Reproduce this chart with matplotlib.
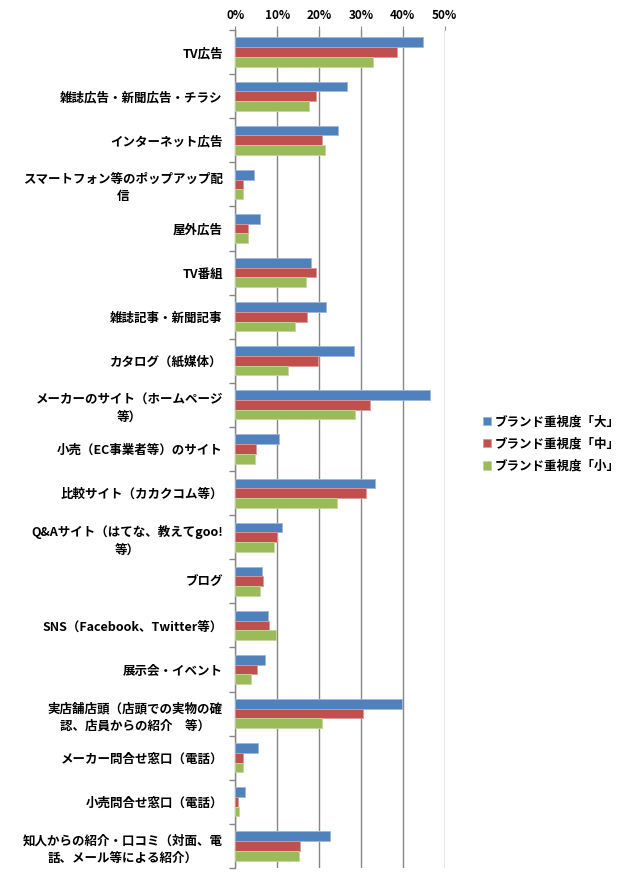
import numpy as np
import matplotlib
matplotlib.use("Agg")
import matplotlib.pyplot as plt
from matplotlib.ticker import FixedLocator, PercentFormatter

plt.rcParams["font.family"] = ["Noto Sans CJK JP", "DejaVu Sans"]
plt.rcParams["font.weight"] = "bold"

GRID_COLOR = "#868686"
SERIES_COLORS = ("#4F81BD", "#C0504D", "#9BBB59")
EDGE_COLORS = ("#9db6db", "#dc9897", "#c3d69b")

categories = [
    "TV広告",
    "雑誌広告・新聞広告・チラシ",
    "インターネット広告",
    "スマートフォン等のポップアップ配\n信",
    "屋外広告",
    "TV番組",
    "雑誌記事・新聞記事",
    "カタログ（紙媒体）",
    "メーカーのサイト（ホームページ\n等）",
    "小売（EC事業者等）のサイト",
    "比較サイト（カカクコム等）",
    "Q&Aサイト（はてな、教えてgoo!\n等）",
    "ブログ",
    "SNS（Facebook、Twitter等）",
    "展示会・イベント",
    "実店舗店頭（店頭での実物の確\n認、店員からの紹介　等）",
    "メーカー問合せ窓口（電話）",
    "小売問合せ窓口（電話）",
    "知人からの紹介・口コミ（対面、電\n話、メール等による紹介）",
]

series_labels = ["ブランド重視度「大」", "ブランド重視度「中」", "ブランド重視度「小」"]

high = [44.7, 26.7, 24.5, 4.5, 5.8, 18.1, 21.6, 28.3, 46.6, 10.5,
        33.3, 11.2, 6.4, 7.7, 7.1, 39.7, 5.5, 2.3, 22.6]
mid = [38.7, 19.2, 20.8, 1.9, 3.1, 19.2, 17.2, 19.7, 32.2, 4.9,
       31.3, 10.0, 6.5, 8.1, 5.1, 30.5, 1.9, 0.6, 15.4]
low = [32.8, 17.7, 21.5, 1.8, 3.0, 16.9, 14.3, 12.6, 28.6, 4.6,
       24.3, 9.3, 6.0, 9.7, 3.8, 20.6, 1.8, 0.9, 15.2]

fig = plt.figure(figsize=(6.32, 8.81), dpi=100)
fig.patch.set_facecolor("white")
ax = fig.add_axes([235.3 / 632, 1 - 868 / 881, (444.7 - 235.3) / 632, 838 / 881])

y = np.arange(len(categories))
bar_h = 0.22
for k, (vals, color, edge, lab) in enumerate(
    zip((high, mid, low), SERIES_COLORS, EDGE_COLORS, series_labels)
):
    ax.barh(y + (k - 1) * bar_h, vals, height=bar_h, color=color,
            edgecolor=edge, linewidth=0.6, label=lab, zorder=3)

ax.set_xlim(0, 50)
ax.set_ylim(len(categories) - 0.5, -0.5)
ax.xaxis.set_major_locator(FixedLocator([0, 10, 20, 30, 40, 50]))
ax.xaxis.set_major_formatter(PercentFormatter(decimals=0))
ax.xaxis.tick_top()
ax.tick_params(axis="x", length=3, color=GRID_COLOR, pad=3, labelsize=8.5)
ax.grid(axis="x", color=GRID_COLOR, linewidth=1.0, zorder=0)

ax.set_yticks(y)
ax.set_yticklabels(categories, fontsize=9, multialignment="center", linespacing=1.45)
ax.yaxis.set_minor_locator(FixedLocator(np.arange(-0.5, len(categories), 1.0)))
ax.tick_params(axis="y", which="major", length=0, pad=9)
ax.tick_params(axis="y", which="minor", length=4, color=GRID_COLOR, width=1.0)

for side in ("top", "right", "bottom"):
    ax.spines[side].set_visible(False)
ax.spines["left"].set_color(GRID_COLOR)
ax.spines["left"].set_linewidth(1.0)

fig.legend(
    loc="center left",
    bbox_to_anchor=(472 / 632, 1 - 444 / 881),
    frameon=False,
    fontsize=9,
    handlelength=0.65,
    handleheight=0.65,
    handletextpad=0.3,
    labelspacing=0.75,
)

fig.savefig("out.png", dpi=100)
